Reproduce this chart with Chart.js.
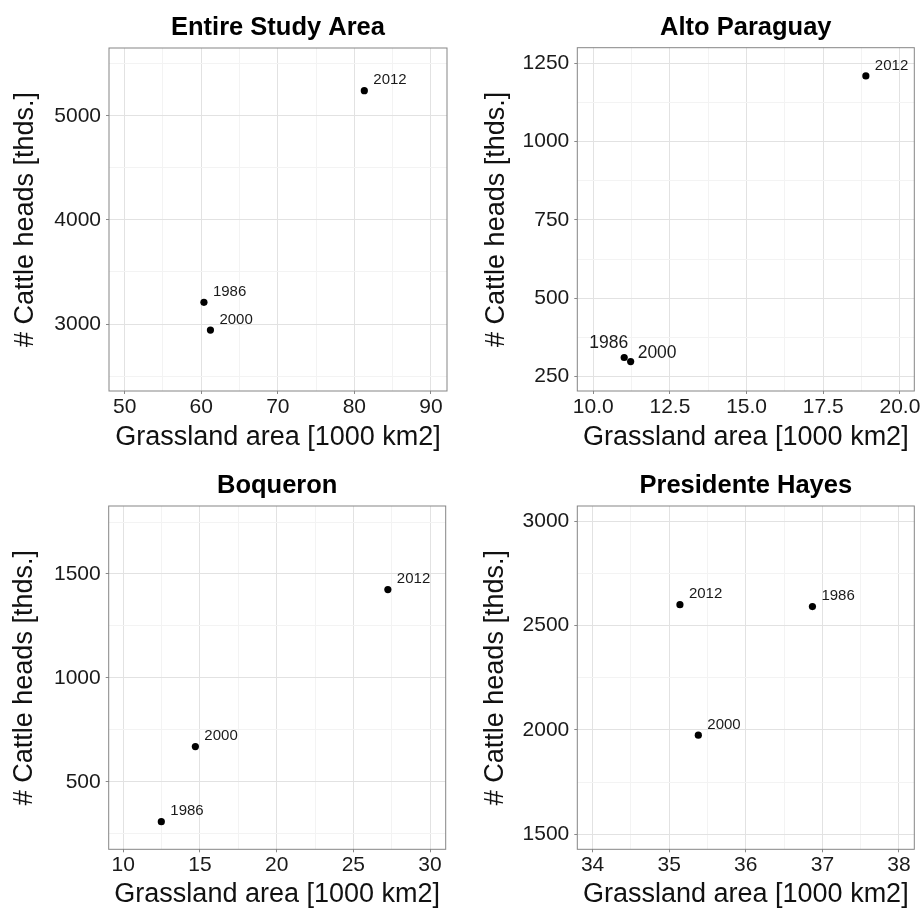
<!DOCTYPE html>
<html>
<head>
<meta charset="utf-8">
<script src="https://cdn.jsdelivr.net/npm/chart.js@4.4.1/dist/chart.umd.min.js"></script>
<style>
  body { margin: 0; background: #fff; }
  #wrap { position: relative; width: 921px; height: 913px; }
  .panel { position: absolute; }
</style>
</head>
<body>
<div id="wrap">
  <div class="panel" style="left:0;top:0;width:460px;height:456px"><canvas id="c1"></canvas></div>
  <div class="panel" style="left:460px;top:0;width:461px;height:456px"><canvas id="c2"></canvas></div>
  <div class="panel" style="left:0;top:456px;width:460px;height:457px"><canvas id="c3"></canvas></div>
  <div class="panel" style="left:460px;top:456px;width:461px;height:457px"><canvas id="c4"></canvas></div>
</div>
<script>
// years shown next to each point
const years = ['1986', '2000', '2012'];

// grassland area [1000 km2] and cattle heads [thds.], order = years
const studyGrass = [60.35, 61.2, 81.3];
const studyCattle = [3208, 2942, 5240];

const altoGrass = [11.01, 11.22, 18.89];
const altoCattle = [311, 298, 1210];

const boqGrass = [12.48, 14.7, 27.25];
const boqCattle = [309, 670, 1425];

const hayesGrass = [36.87, 35.38, 35.14];
const hayesCattle = [2591, 1975, 2600];

// tick labels
const studyXTicks = [50, 60, 70, 80, 90];
const studyYTicks = [3000, 4000, 5000];
const altoXTicks = [10, 12.5, 15, 17.5, 20];
const altoYTicks = [250, 500, 750, 1000, 1250];
const boqXTicks = [10, 15, 20, 25, 30];
const boqYTicks = [500, 1000, 1500];
const hayesXTicks = [34, 35, 36, 37, 38];
const hayesYTicks = [1500, 2000, 2500, 3000];

const FONT = '"Liberation Sans", Arial, sans-serif';

function near(a, b) { return Math.abs(a - b) < 1e-6; }

// minor grid lines halfway between the major ones
function minorOf(major, min, max) {
    const step = major[1] - major[0];
    const out = major.map(v => v - step / 2);
    out.push(major[major.length - 1] + step / 2);
    return out.filter(v => v > min && v < max);
}

const boxPlugin = {
    id: 'panelBox',
    afterDatasetsDraw(chart) {
        const a = chart.chartArea;
        const ctx = chart.ctx;
        ctx.save();
        ctx.strokeStyle = '#858585';
        ctx.lineWidth = 1;
        ctx.strokeRect(a.left, a.top, a.right - a.left, a.bottom - a.top);
        ctx.restore();
    }
};

const yearLabels = {
    id: 'yearLabels',
    afterDatasetsDraw(chart, args, opts) {
        const meta = chart.getDatasetMeta(0);
        const ctx = chart.ctx;
        ctx.save();
        meta.data.forEach((pt, i) => {
            const s = (opts.nudge && opts.nudge[i]) || {};
            const dx = s.dx !== undefined ? s.dx : 9;
            const dy = s.dy !== undefined ? s.dy : -10.5;
            ctx.font = (s.size || 15) + 'px ' + FONT;
            ctx.fillStyle = '#1a1a1a';
            ctx.textAlign = s.align || 'left';
            ctx.textBaseline = 'middle';
            ctx.fillText(opts.labels[i], pt.x + dx, pt.y + dy);
        });
        ctx.restore();
    }
};

function axis(major, min, max, fmt, fitSize, isX, title, titlePad) {
    const all = major.concat(minorOf(major, min, max)).sort((a, b) => a - b);
    const isMajor = v => major.some(m => near(m, v));
    const sc = {
        type: 'linear',
        min: min,
        max: max,
        afterBuildTicks: s => { s.ticks = all.map(v => ({ value: v })); },
        ticks: {
            autoSkip: false,
            maxRotation: 0,
            padding: isX ? 2.5 : 5,
            color: '#1a1a1a',
            font: { family: FONT, size: 21, lineHeight: 1 },
            callback: v => isMajor(v) ? fmt(v) : ''
        },
        grid: {
            color: c => (c.tick && isMajor(c.tick.value)) ? '#e2e2e2' : '#f3f3f3',
            tickColor: c => (c.tick && isMajor(c.tick.value)) ? '#8a8a8a' : 'rgba(0,0,0,0)',
            tickLength: 3,
            lineWidth: 1
        },
        border: { display: false },
        title: {
            display: true,
            text: title,
            color: '#111',
            font: { family: FONT, size: 27, lineHeight: 1.2 },
            padding: titlePad
        }
    };
    if (isX) {
        // let the last tick label run off the panel edge like the original
        sc.afterFit = s => { s.height = fitSize; s.paddingLeft = 0; s.paddingRight = 0; };
    } else {
        sc.afterFit = s => { s.width = fitSize; s.paddingTop = 0; s.paddingBottom = 0; };
    }
    return sc;
}

function crearPanel(id, p) {
    const ctx = document.getElementById(id).getContext('2d');
    return new Chart(ctx, {
        type: 'scatter',
        data: {
            datasets: [{
                data: p.xs.map((x, i) => ({ x: x, y: p.ys[i] })),
                backgroundColor: '#000',
                borderWidth: 0,
                pointRadius: 3.6
            }]
        },
        options: {
            responsive: true,
            maintainAspectRatio: false,
            animation: false,
            layout: { padding: { left: 0, right: p.padRight, top: 0, bottom: 0 } },
            scales: {
                x: axis(p.xTicks, p.xMin, p.xMax, p.xFmt, p.xAxisH, true,
                    'Grassland area [1000 km2]', { top: 0, bottom: 2 }),
                y: axis(p.yTicks, p.yMin, p.yMax, v => String(v), p.yAxisW, false,
                    '# Cattle heads [thds.]', { top: p.yTitlePad, bottom: 0 })
            },
            plugins: {
                legend: { display: false },
                tooltip: { enabled: false },
                title: {
                    display: true,
                    text: p.title,
                    fullSize: false,
                    color: '#000',
                    font: { family: FONT, size: 25.5, weight: 'bold', lineHeight: 1.2 },
                    padding: p.titlePad
                },
                yearLabels: { labels: years, nudge: p.nudge || [] }
            }
        },
        plugins: [yearLabels, boxPlugin]
    });
}

crearPanel('c1', {
    title: 'Entire Study Area', xs: studyGrass, ys: studyCattle,
    xTicks: studyXTicks, yTicks: studyYTicks, xMin: 47.95, xMax: 92.1, yMin: 2357, yMax: 5650,
    xFmt: v => String(v), xAxisH: 65, yAxisW: 109, padRight: 13, yTitlePad: 9.3,
    titlePad: { top: 13, bottom: 4.4 }
});

crearPanel('c2', {
    title: 'Alto Paraguay', xs: altoGrass, ys: altoCattle,
    xTicks: altoXTicks, yTicks: altoYTicks, xMin: 9.48, xMax: 20.47, yMin: 204, yMax: 1300,
    xFmt: v => v.toFixed(1), xAxisH: 65, yAxisW: 117.3, padRight: 6.7, yTitlePad: 20.3,
    titlePad: { top: 13, bottom: 4.1 },
    nudge: [{ dx: 4, dy: -14, size: 17.5, align: 'right' }, { dx: 7, dy: -8, size: 17.5 }, {}]
});

crearPanel('c3', {
    title: 'Boqueron', xs: boqGrass, ys: boqCattle,
    xTicks: boqXTicks, yTicks: boqYTicks, xMin: 9.05, xMax: 31.02, yMin: 176, yMax: 1827,
    xFmt: v => String(v), xAxisH: 63.7, yAxisW: 108.7, padRight: 14.3, yTitlePad: 8.3,
    titlePad: { top: 14.5, bottom: 4.9 }
});

crearPanel('c4', {
    title: 'Presidente Hayes', xs: hayesGrass, ys: hayesCattle,
    xTicks: hayesXTicks, yTicks: hayesYTicks, xMin: 33.8, xMax: 38.2, yMin: 1428, yMax: 3073,
    xFmt: v => String(v), xAxisH: 63.7, yAxisW: 117.3, padRight: 6.7, yTitlePad: 19.8,
    titlePad: { top: 14.5, bottom: 4.9 }
});
</script>
</body>
</html>
